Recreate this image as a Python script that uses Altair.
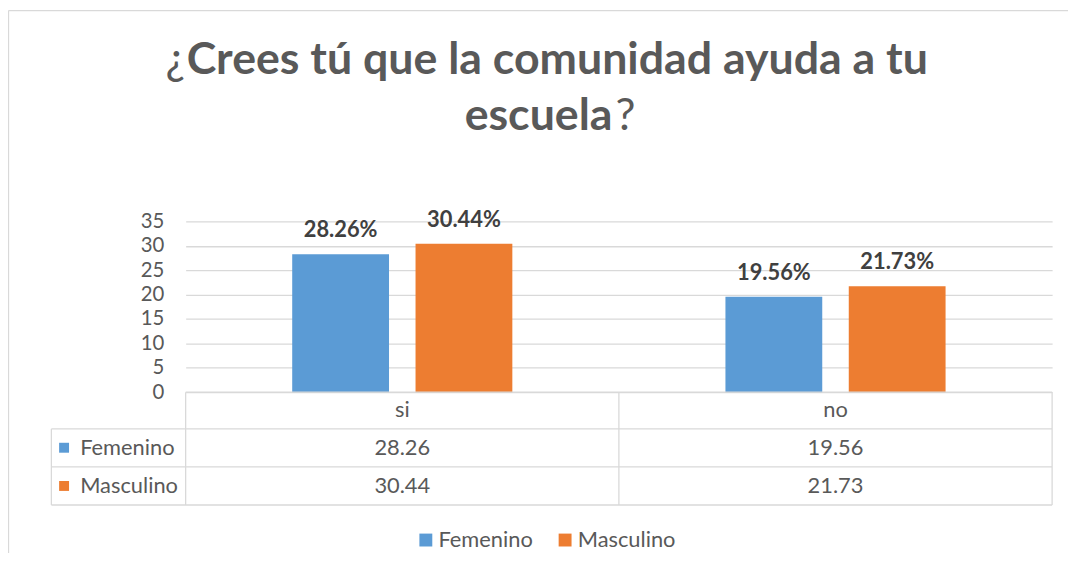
import altair as alt
import pandas as pd

# ---- data ----
categories = ["si", "no"]
series = ["Femenino", "Masculino"]
femenino = [28.26, 19.56]
masculino = [30.44, 21.73]
colors = ["#5B9BD5", "#ED7D31"]
y_ticks = [0, 5, 10, 15, 20, 25, 30, 35]
title_open = "¿"
title_line1 = "Crees tú que la comunidad ayuda a tu"
title_line2 = "escuela"
title_close = "?"

rows = []
for i, c in enumerate(categories):
    rows.append({"cat": c, "serie": series[0], "value": femenino[i]})
    rows.append({"cat": c, "serie": series[1], "value": masculino[i]})
df = pd.DataFrame(rows)
cat_df = pd.DataFrame({"cat": categories})
one = pd.DataFrame({"k": [0]})

W, H = 873, 172
FONT = "Lato"
GRAY = "#595959"
LINE = "#D9D9D9"

x = alt.X("cat:N", sort=categories, axis=None,
          scale=alt.Scale(domain=categories, paddingInner=0, paddingOuter=0))
xo = alt.XOffset("serie:N", sort=series,
                 scale=alt.Scale(domain=series, paddingInner=0.215, paddingOuter=0.864))
yaxis = alt.Axis(values=y_ticks, grid=True, gridColor=LINE, gridWidth=1.3,
                 domain=False, ticks=False, labelFont=FONT, labelFontSize=20.5,
                 labelColor=GRAY, labelPadding=22, labelOverlap=False, tickCount=8)
y = alt.Y("value:Q", title=None, scale=alt.Scale(domain=[0, 35], nice=False), axis=yaxis)
color = alt.Color("serie:N", scale=alt.Scale(domain=series, range=colors), legend=None)

base = alt.Chart(df)
bars = base.mark_bar().encode(x=x, xOffset=xo, y=y, color=color)
labels = base.transform_calculate(
    lbl="format(datum.value, '.2f') + '%'"
).mark_text(font=FONT, fontSize=22, fontWeight="bold", color="#404040",
            dy=-17, baseline="alphabetic").encode(
    x=x, xOffset=xo, y=y, text="lbl:N")

layers = [bars, labels]

# ---- data table ----
layers.append(alt.Chart(cat_df).mark_text(font=FONT, fontSize=22, color=GRAY,
                                          baseline="middle").encode(
    x=x, y=alt.value(190), text="cat:N"))
row_mid = [228, 266.5]
for s, ym in zip(series, row_mid):
    layers.append(base.transform_filter(alt.datum.serie == s).transform_calculate(
        t="format(datum.value, '.2f')").mark_text(
        font=FONT, fontSize=22, color=GRAY, baseline="middle").encode(
        x=x, y=alt.value(ym), text="t:N"))

def hrule(x1, x2, yy, col=LINE, sw=1.3):
    return alt.Chart(one).mark_rule(color=col, strokeWidth=sw).encode(
        x=alt.value(x1), x2=alt.value(x2), y=alt.value(yy))

def vrule(xx, y1, y2, col=LINE, sw=1.3):
    return alt.Chart(one).mark_rule(color=col, strokeWidth=sw).encode(
        x=alt.value(xx), y=alt.value(y1), y2=alt.value(y2))

HL = -135.3
R1, R2, RB = 209, 247.3, 285.7
layers += [
    hrule(0, W, H),
    hrule(HL, W, R1),
    hrule(HL, W, R2),
    hrule(HL, W, RB),
    vrule(0, H, RB),
    vrule(W / 2, H, RB),
    vrule(W, H, RB),
    vrule(HL, R1, RB),
]

# row headers with colour keys
for i, s in enumerate(series):
    layers.append(alt.Chart(one).mark_square(size=100, opacity=1, color=colors[i]).encode(
        x=alt.value(-122.5), y=alt.value(row_mid[i])))
    layers.append(alt.Chart(one).mark_text(font=FONT, fontSize=22, color=GRAY, align="left",
                                           baseline="middle", text=s).encode(
        x=alt.value(-106.3), y=alt.value(row_mid[i])))

# bottom legend
leg_sq = [242, 382.3]
leg_tx = [254.7, 395]
for i, s in enumerate(series):
    layers.append(alt.Chart(one).mark_square(size=169, opacity=1, color=colors[i]).encode(
        x=alt.value(leg_sq[i]), y=alt.value(321)))
    layers.append(alt.Chart(one).mark_text(font=FONT, fontSize=22, color=GRAY, align="left",
                                           baseline="middle", text=s).encode(
        x=alt.value(leg_tx[i]), y=alt.value(321)))

# title
TS = 45
layers.append(alt.Chart(one).mark_text(font=FONT, fontSize=TS, color=GRAY, align="right",
                                       baseline="alphabetic", text=title_open).encode(
    x=alt.value(-0.5), y=alt.value(-149)))
layers.append(alt.Chart(one).mark_text(font=FONT, fontSize=TS, fontWeight="bold", color=GRAY,
                                       align="left", baseline="alphabetic", text=title_line1).encode(
    x=alt.value(1), y=alt.value(-149)))
layers.append(alt.Chart(one).mark_text(font=FONT, fontSize=TS, fontWeight="bold", color=GRAY,
                                       align="right", baseline="alphabetic", text=title_line2).encode(
    x=alt.value(430), y=alt.value(-92)))
layers.append(alt.Chart(one).mark_text(font=FONT, fontSize=TS, color=GRAY, align="left",
                                       baseline="alphabetic", text=title_close).encode(
    x=alt.value(433), y=alt.value(-92)))

# outer chart border (top and left visible)
layers.append(hrule(-178.5, W + 30, -212.5))
layers.append(vrule(-178.5, -212.5, H + 200))

chart = alt.layer(*layers).properties(
    width=W, height=H,
    autosize=alt.AutoSizeParams(type="none"),
    padding={"left": 179, "top": 213, "right": 16, "bottom": 160},
).configure_view(stroke=None)

chart.save("out.html", embed_options={"renderer": "svg", "actions": False})
